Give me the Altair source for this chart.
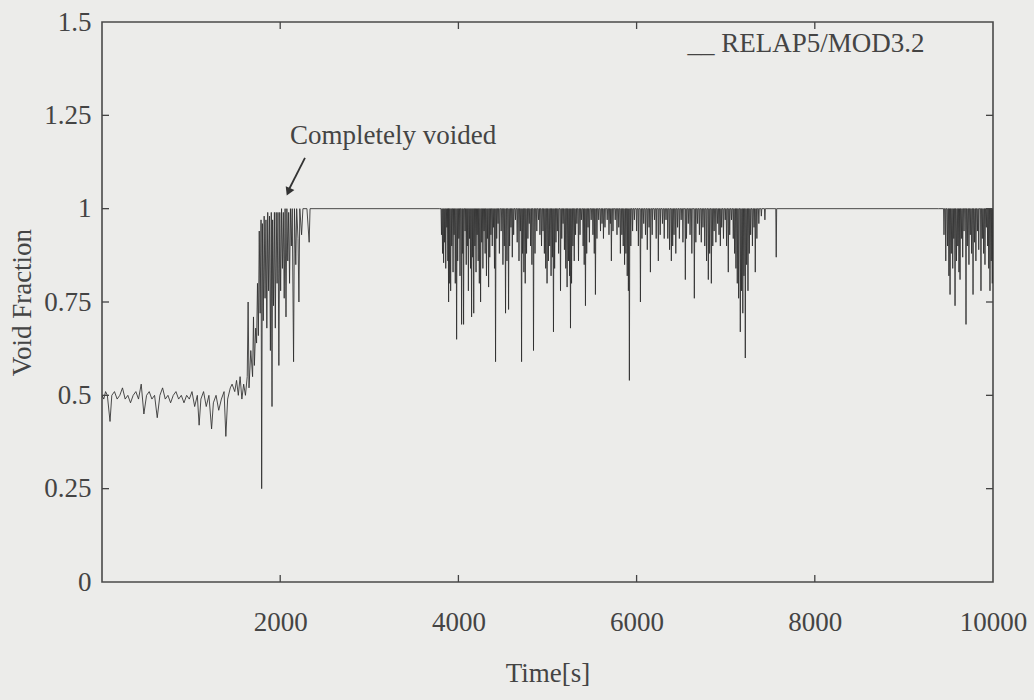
import altair as alt
import pandas as pd

# ---------------- data ----------------
# noisy two-phase period before the core uncovers (time [s], void fraction)
early_t = [0, 20, 40, 60, 90, 110, 140, 170, 200, 230, 260, 290, 320, 350, 380, 410,
           440, 470, 500, 530, 560, 590, 620, 650, 680, 710, 740, 770, 800, 830, 860,
           890, 920, 950, 980, 1010, 1040, 1070, 1090, 1110, 1140, 1170, 1200, 1230,
           1250, 1280, 1310, 1340, 1370, 1390, 1410, 1440, 1460, 1490, 1510, 1530,
           1550, 1570, 1590, 1610, 1630]
early_v = [0.50, 0.49, 0.51, 0.50, 0.43, 0.50, 0.51, 0.49, 0.50, 0.52, 0.49, 0.50,
           0.48, 0.50, 0.51, 0.49, 0.53, 0.45, 0.50, 0.51, 0.49, 0.50, 0.44, 0.50,
           0.52, 0.49, 0.50, 0.48, 0.50, 0.51, 0.49, 0.50, 0.48, 0.50, 0.49, 0.51,
           0.47, 0.50, 0.42, 0.49, 0.51, 0.47, 0.50, 0.41, 0.48, 0.50, 0.46, 0.49,
           0.51, 0.39, 0.49, 0.52, 0.53, 0.51, 0.54, 0.50, 0.55, 0.49, 0.53, 0.50, 0.55]

# transition to a completely voided state
trans_t = [1640, 1650, 1670, 1690, 1700, 1710, 1725, 1735, 1745, 1755, 1765, 1775,
           1785, 1792, 1800, 1810, 1820, 1830, 1840, 1850, 1860, 1870, 1880, 1890,
           1900, 1908, 1915, 1925, 1935, 1945, 1955, 1965, 1975, 1985, 1995, 2005,
           2015, 2025, 2035, 2045, 2055, 2065, 2075, 2085, 2095, 2105, 2115, 2125,
           2135, 2150, 2160, 2175, 2185, 2200, 2210, 2220, 2240, 2255, 2300, 2325,
           2335, 3790]
trans_v = [0.75, 0.52, 0.62, 0.55, 0.71, 0.58, 0.68, 0.64, 0.80, 0.66, 0.94, 0.72,
           0.97, 0.25, 0.96, 0.70, 0.98, 0.76, 0.97, 0.68, 0.99, 0.78, 0.98, 0.62,
           0.99, 0.47, 0.97, 0.74, 0.99, 0.68, 0.99, 0.80, 0.99, 0.58, 0.99, 0.78,
           1.00, 0.84, 0.99, 0.76, 1.00, 0.71, 1.00, 0.86, 0.99, 0.80, 1.00, 0.90,
           1.00, 0.59, 1.00, 0.85, 1.00, 0.92, 0.75, 1.00, 0.93, 1.00, 1.00, 0.91,
           1.00, 1.00]

# downward spikes from the voided level (time [s], minimum void fraction)
spike_t = [3810, 3822, 3834, 3845, 3858, 3870, 3882, 3890, 3898, 3913, 3925, 3940,
           3952, 3965, 3980, 3992, 4005, 4018, 4036, 4048, 4058, 4075, 4088, 4100,
           4112, 4125, 4136, 4148, 4160, 4172, 4185, 4198, 4210, 4222, 4235, 4249,
           4262, 4275, 4288, 4300, 4315, 4326, 4339, 4352, 4365, 4380, 4395, 4405,
           4417, 4430, 4445, 4460, 4480, 4500, 4515, 4529, 4545, 4563, 4575, 4590,
           4605, 4620, 4640, 4660, 4680, 4695, 4709, 4720, 4735, 4750, 4765, 4780,
           4795, 4810, 4825, 4843, 4860, 4880, 4900, 4915, 4933, 4950, 4965, 4980,
           4995, 5010, 5025, 5040, 5055, 5067, 5080, 5095, 5110, 5125, 5146, 5160,
           5175, 5190, 5205, 5220, 5235, 5248, 5258, 5270, 5285, 5300, 5315, 5330,
           5348, 5365, 5380, 5400, 5412, 5426, 5440, 5455, 5470, 5490, 5510, 5525,
           5538, 5555, 5575, 5595, 5612, 5628, 5645, 5670, 5690, 5705, 5717, 5735,
           5760, 5780, 5800, 5818, 5835, 5850, 5865, 5880, 5895, 5908, 5919, 5935,
           5955, 5975, 6000, 6020, 6043, 6060, 6080, 6100, 6120, 6140, 6155, 6175,
           6200, 6220, 6244, 6265, 6290, 6310, 6330, 6350, 6370, 6390, 6405, 6420,
           6440, 6460, 6480, 6500, 6520, 6547, 6560, 6580, 6600, 6620, 6648, 6665,
           6685, 6705, 6726, 6745, 6765, 6785, 6805, 6820, 6839, 6855, 6870, 6890,
           6910, 6925, 6940, 6955, 6975, 6995, 7010, 7029, 7045, 7065, 7085, 7100,
           7115, 7130, 7145, 7164, 7178, 7192, 7205, 7220, 7235, 7250, 7265, 7280,
           7300, 7318, 7332, 7350, 7372, 7400, 7440, 7567,
           9450, 9470, 9490, 9505, 9518, 9532, 9548, 9560, 9574, 9590, 9605, 9618,
           9630, 9645, 9660, 9675, 9697, 9712, 9730, 9745, 9760, 9776, 9792, 9808,
           9825, 9840, 9865, 9880, 9895, 9910, 9925, 9940, 9952, 9966, 9980, 9992]
spike_v = [0.93, 0.88, 0.855, 0.91, 0.84, 0.95, 0.86, 0.75, 0.80, 0.78, 0.90, 0.83,
           0.93, 0.80, 0.65, 0.86, 0.92, 0.82, 0.69, 0.88, 0.69, 0.94, 0.85, 0.90,
           0.78, 0.92, 0.84, 0.71, 0.87, 0.72, 0.90, 0.83, 0.93, 0.86, 0.80, 0.75,
           0.91, 0.84, 0.94, 0.88, 0.82, 0.92, 0.79, 0.87, 0.93, 0.90, 0.95, 0.84,
           0.59, 0.92, 0.96, 0.88, 0.94, 0.85, 0.90, 0.72, 0.86, 0.73, 0.90, 0.95,
           0.87, 0.93, 0.97, 0.91, 0.86, 0.94, 0.59, 0.88, 0.83, 0.80, 0.88, 0.92,
           0.96, 0.90, 0.85, 0.62, 0.88, 0.94, 0.97, 0.93, 0.90, 0.94, 0.88, 0.84,
           0.80, 0.86, 0.90, 0.82, 0.87, 0.67, 0.84, 0.91, 0.94, 0.88, 0.78, 0.92,
           0.96, 0.89, 0.84, 0.79, 0.86, 0.82, 0.68, 0.80, 0.90, 0.86, 0.93, 0.96,
           0.86, 0.93, 0.97, 0.90, 0.85, 0.74, 0.88, 0.95, 0.91, 0.97, 0.93, 0.88,
           0.77, 0.92, 0.97, 0.94, 0.96, 0.92, 0.95, 0.97, 0.93, 0.96, 0.86, 0.94,
           0.97, 0.93, 0.95, 0.88, 0.93, 0.90, 0.85, 0.88, 0.82, 0.78, 0.54, 0.90,
           0.94, 0.97, 0.94, 0.90, 0.75, 0.92, 0.96, 0.93, 0.89, 0.95, 0.83, 0.93,
           0.97, 0.92, 0.86, 0.93, 0.96, 0.92, 0.97, 0.92, 0.89, 0.86, 0.90, 0.93,
           0.88, 0.95, 0.92, 0.97, 0.91, 0.81, 0.92, 0.96, 0.93, 0.88, 0.76, 0.91,
           0.96, 0.93, 0.91, 0.95, 0.90, 0.86, 0.81, 0.88, 0.80, 0.90, 0.94, 0.91,
           0.96, 0.93, 0.90, 0.95, 0.92, 0.97, 0.90, 0.83, 0.93, 0.97, 0.92, 0.88,
           0.84, 0.80, 0.76, 0.67, 0.78, 0.72, 0.82, 0.60, 0.85, 0.78, 0.88, 0.93,
           0.90, 0.95, 0.83, 0.92, 0.96, 0.98, 0.97, 0.87,
           0.93, 0.86, 0.90, 0.82, 0.77, 0.88, 0.84, 0.92, 0.74, 0.86, 0.90, 0.83,
           0.81, 0.92, 0.87, 0.94, 0.69, 0.90, 0.85, 0.93, 0.88, 0.77, 0.91, 0.86,
           0.94, 0.89, 0.78, 0.92, 0.88, 0.85, 0.95, 0.90, 0.84, 0.78, 0.86, 0.80]
voided_level = 1.0
spike_halfwidth = 5

x_ticks = [2000, 4000, 6000, 8000, 10000]
y_ticks = [0, 0.25, 0.5, 0.75, 1, 1.25, 1.5]
legend_label = "__ RELAP5/MOD3.2"
note_label = "Completely voided"

# ---------------- build the series ----------------
rows = []
for t, v in zip(early_t, early_v):
    rows.append((t, v))
for t, v in zip(trans_t, trans_v):
    rows.append((t, v))
prev_end = None
for t, v in sorted(zip(spike_t, spike_v)):
    if prev_end is not None and t - prev_end > 200:
        rows.append((prev_end + spike_halfwidth, voided_level))
        rows.append((t - 60, voided_level))
    rows.append((t - spike_halfwidth, voided_level))
    rows.append((t, v))
    rows.append((t + spike_halfwidth, voided_level))
    prev_end = t
rows.append((10000, voided_level))
series = pd.DataFrame(rows, columns=["t", "v"])
series["order"] = range(len(series))

FONT = "Liberation Serif"
INK = "#444444"
BG = "#ececea"

xs = alt.Scale(domain=[0, 10000], nice=False, zero=False)
ys = alt.Scale(domain=[0, 1.5], nice=False, zero=False)

x_axis = alt.Axis(values=x_ticks, format="d", grid=False, domain=False, ticks=False,
                  labelFlush=False, labelOverlap=False,
                  labelFont=FONT, labelFontSize=27, labelColor=INK, labelPadding=27,
                  titleFont=FONT, titleFontSize=27, titleFontWeight="normal",
                  titleColor=INK, titlePadding=25)
y_axis = alt.Axis(values=y_ticks, format=".3~g", grid=False, domain=False, ticks=False,
                  labelFlush=False, labelOverlap=False,
                  labelFont=FONT, labelFontSize=27, labelColor=INK, labelPadding=11,
                  titleFont=FONT, titleFontSize=27, titleFontWeight="normal",
                  titleColor=INK, titlePadding=7)
XT = "Time[s]"
YT = "Void Fraction"

line = alt.Chart(series).mark_line(color="#2e2e2e", strokeWidth=1, opacity=0.85, clip=True).encode(
    x=alt.X("t:Q", scale=xs, title=XT, axis=x_axis),
    y=alt.Y("v:Q", scale=ys, title=YT, axis=y_axis),
    order="order:Q",
)

xt = pd.DataFrame({"xt": x_ticks[:-1]})
yt = pd.DataFrame({"yt": y_ticks[1:-1]})
TL = 7
ticks_bottom = alt.Chart(xt).mark_rule(color=INK, strokeWidth=1.3).encode(
    x=alt.X("xt:Q", scale=xs, title=XT, axis=x_axis), y=alt.value(560), y2=alt.value(560 - TL))
ticks_top = alt.Chart(xt).mark_rule(color=INK, strokeWidth=1.3).encode(
    x=alt.X("xt:Q", scale=xs, title=XT, axis=x_axis), y=alt.value(0), y2=alt.value(TL))
ticks_left = alt.Chart(yt).mark_rule(color=INK, strokeWidth=1.3).encode(
    y=alt.Y("yt:Q", scale=ys, title=YT, axis=y_axis), x=alt.value(0), x2=alt.value(TL))
ticks_right = alt.Chart(yt).mark_rule(color=INK, strokeWidth=1.3).encode(
    y=alt.Y("yt:Q", scale=ys, title=YT, axis=y_axis), x=alt.value(891 - TL), x2=alt.value(891))

legend = alt.Chart(pd.DataFrame({"label": [legend_label]})).mark_text(
    font=FONT, fontSize=27, color=INK, align="left", baseline="middle").encode(
    x=alt.datum(6570, scale=xs, title=XT, axis=x_axis),
    y=alt.datum(1.44, scale=ys, title=YT, axis=y_axis), text="label:N")

note = alt.Chart(pd.DataFrame({"label": [note_label]})).mark_text(
    font=FONT, fontSize=27, color=INK, align="left", baseline="middle").encode(
    x=alt.datum(2110, scale=xs, title=XT, axis=x_axis),
    y=alt.datum(1.195, scale=ys, title=YT, axis=y_axis), text="label:N")

arrow = alt.Chart(pd.DataFrame({"a": [0]})).mark_rule(color="#333333", strokeWidth=1.8).encode(
    x=alt.datum(2278, scale=xs, title=XT, axis=x_axis),
    y=alt.datum(1.136, scale=ys, title=YT, axis=y_axis),
    x2=alt.datum(2095), y2=alt.datum(1.05))
head = alt.Chart(pd.DataFrame({"a": [0]})).mark_point(
    shape="triangle-up", filled=True, color="#333333", size=90, angle=204, opacity=1).encode(
    x=alt.datum(2092, scale=xs, title=XT, axis=x_axis),
    y=alt.datum(1.045, scale=ys, title=YT, axis=y_axis))

chart = alt.layer(line, ticks_bottom, ticks_top, ticks_left, ticks_right,
                  legend, note, arrow, head).properties(
    width=891, height=560,
    autosize=alt.AutoSizeParams(type="none"),
    padding={"left": 102, "top": 22, "right": 41, "bottom": 118},
    background=BG,
).configure_view(stroke="#4a4a4a", strokeWidth=1.6, fill=BG)

chart.save("out.html", embed_options={"renderer": "svg", "actions": False})
